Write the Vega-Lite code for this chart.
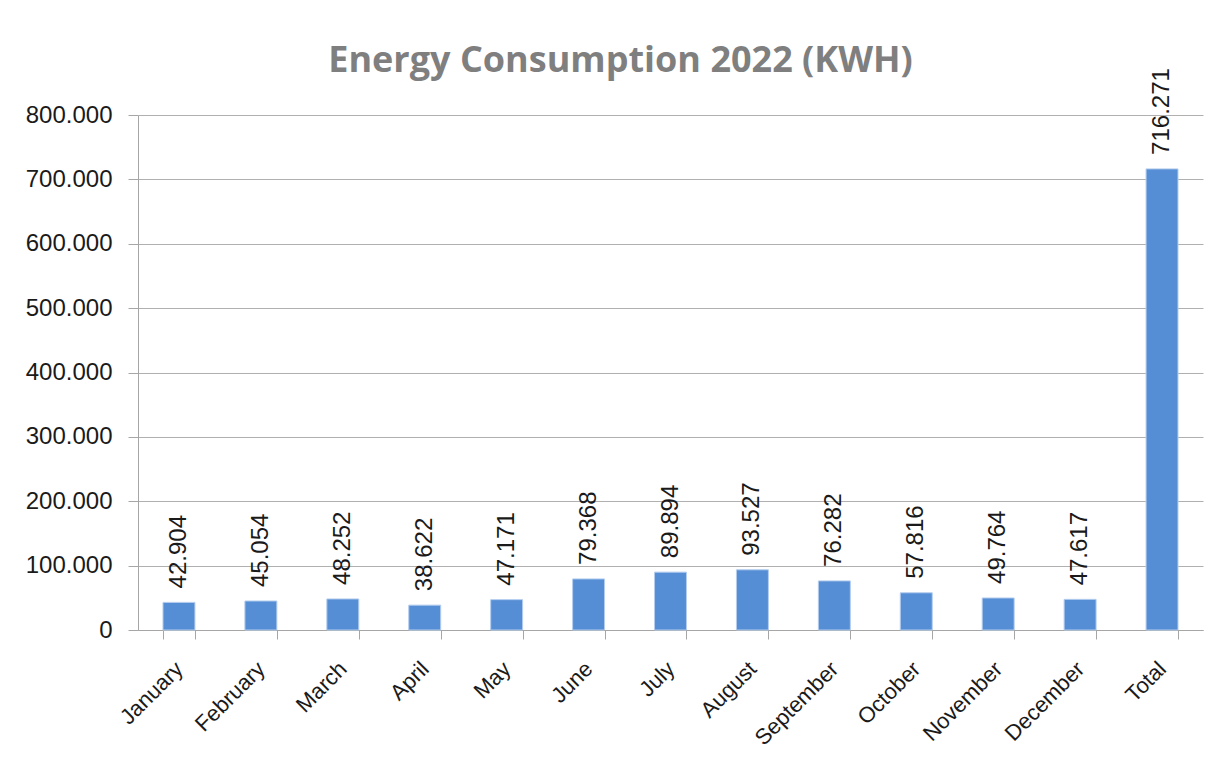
{
  "$schema": "https://vega.github.io/schema/vega-lite/v6.json",
  "width": 1065,
  "height": 515,
  "autosize": {"type": "none"},
  "padding": {"left": 138, "top": 115, "right": 27, "bottom": 137},
  "background": "white",
  "title": {
    "text": "Energy Consumption 2022 (KWH)",
    "anchor": "middle",
    "frame": "group",
    "dx": -50,
    "offset": -12,
    "font": "Open Sans",
    "fontSize": 36,
    "fontWeight": "bold",
    "color": "#7f7f7f"
  },
  "data": {
    "values": [
      {"month": "January", "kwh": 42904},
      {"month": "February", "kwh": 45054},
      {"month": "March", "kwh": 48252},
      {"month": "April", "kwh": 38622},
      {"month": "May", "kwh": 47171},
      {"month": "June", "kwh": 79368},
      {"month": "July", "kwh": 89894},
      {"month": "August", "kwh": 93527},
      {"month": "September", "kwh": 76282},
      {"month": "October", "kwh": 57816},
      {"month": "November", "kwh": 49764},
      {"month": "December", "kwh": 47617},
      {"month": "Total", "kwh": 716271}
    ]
  },
  "encoding": {
    "x": {
      "field": "month",
      "type": "nominal",
      "sort": null,
      "scale": {"paddingInner": 0.61, "paddingOuter": 0.305},
      "axis": {
        "title": null,
        "labelAngle": -45,
        "labelAlign": "right",
        "labelBaseline": "middle",
        "labelFontSize": 22,
        "labelFont": "Liberation Sans",
        "labelColor": "#1a1a1a",
        "labelPadding": 26,
        "tickBand": "extent",
        "tickSize": 9,
        "tickColor": "#a6a6a6",
        "domainColor": "#a6a6a6",
        "grid": false
      }
    },
    "y": {
      "field": "kwh",
      "type": "quantitative",
      "scale": {"domain": [0, 800000]},
      "axis": {
        "title": null,
        "values": [0, 100000, 200000, 300000, 400000, 500000, 600000, 700000, 800000],
        "format": ",d",
        "labelFontSize": 24,
        "labelFont": "Liberation Sans",
        "labelColor": "#1a1a1a",
        "labelPadding": 16,
        "tickSize": 10,
        "tickColor": "#a6a6a6",
        "domainColor": "#a6a6a6",
        "gridColor": "#b0b0b0",
        "grid": true
      }
    }
  },
  "layer": [
    {
      "mark": {"type": "bar", "color": "#558ed5", "stroke": "#b4cdee", "strokeWidth": 1}
    },
    {
      "mark": {
        "type": "text",
        "angle": -90,
        "align": "left",
        "baseline": "middle",
        "dx": 14,
        "font": "Liberation Sans",
        "fontSize": 24,
        "color": "#1a1a1a"
      },
      "encoding": {
        "text": {"field": "kwh", "type": "quantitative", "format": ",d"}
      }
    }
  ],
  "config": {
    "view": {"stroke": null},
    "locale": {
      "number": {"decimal": ",", "thousands": ".", "grouping": [3], "currency": ["", " €"]}
    }
  }
}
